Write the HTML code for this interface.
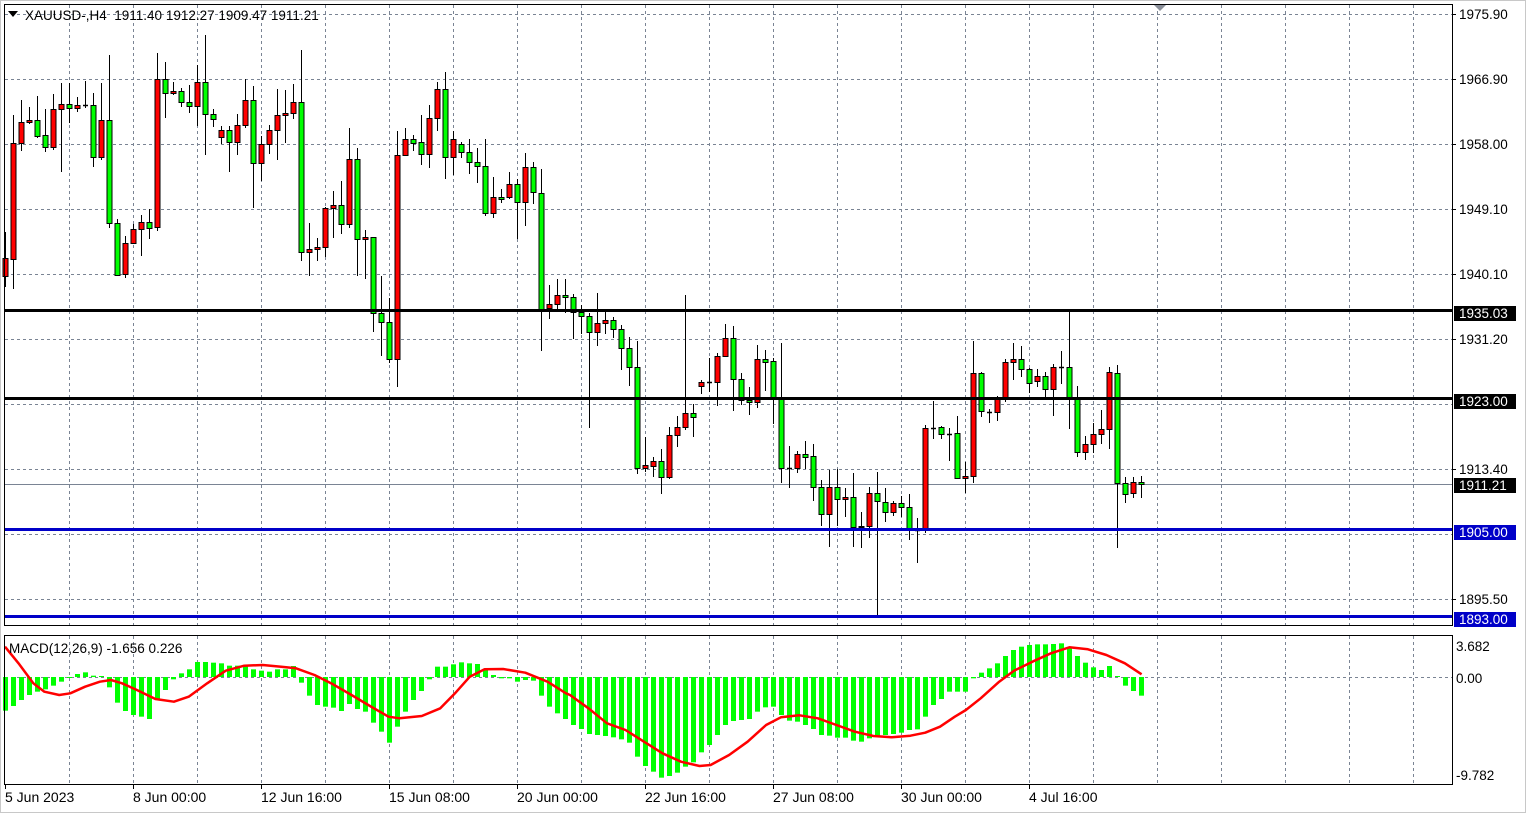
<!DOCTYPE html>
<html><head><meta charset="utf-8"><style>
html,body{margin:0;padding:0;background:#fff;}
svg{display:block;font-family:"Liberation Sans","DejaVu Sans",sans-serif;}
text{white-space:pre;}
</style></head><body>
<svg id="s" width="1526" height="813" xmlns="http://www.w3.org/2000/svg"></svg>
<script>
const S=document.getElementById('s');let h='';
h+='<rect x="0" y="0" width="1526" height="813" fill="#fff"/>';
h+='<rect x="0.5" y="0.5" width="1525" height="812" fill="none" stroke="#c8c8c8"/>';
const gs='stroke="#7a8494" stroke-width="1" stroke-dasharray="3,3"';
for(let k=1;k<=22;k++){const x=5+64*k+0.5;h+=`<line x1="${x}" y1="5" x2="${x}" y2="625" ${gs}/>`;h+=`<line x1="${x}" y1="636" x2="${x}" y2="784" ${gs}/>`;}
for(let k=0;k<10;k++){const y=14+65*k+0.5;h+=`<line x1="5" y1="${y}" x2="1452" y2="${y}" ${gs}/>`;}
h+=`<line x1="5" y1="677.5" x2="1452" y2="677.5" ${gs}/>`;
h+='<line x1="5" y1="484.5" x2="1452" y2="484.5" stroke="#7a8494" stroke-width="1"/>';
const C=[[258,276,232,287,'r'],[143,259,115,289,'r'],[122,143,100,151,'r'],[120,122,107,124,'r'],[120,136,96,138,'g'],[135,147,109,152,'g'],[109,147,94,150,'r'],[104,109,83,172,'r'],[104,108,83,123,'g'],[105,108,97,112,'r'],[105,105,81,108,'d'],[105,157,93,167,'g'],[120,157,83,160,'r'],[120,223,55,228,'g'],[223,275,219,275,'g'],[243,274,236,278,'r'],[229,243,224,244,'r'],[222,229,215,256,'r'],[222,228,209,239,'g'],[79,227,53,231,'r'],[79,93,62,118,'g'],[91,93,82,95,'r'],[91,102,88,107,'g'],[102,106,85,113,'g'],[82,106,65,126,'r'],[82,114,35,155,'g'],[114,119,109,127,'g'],[130,137,126,144,'r'],[130,142,126,172,'g'],[125,142,114,155,'r'],[100,125,79,128,'r'],[100,163,86,208,'g'],[144,163,136,181,'r'],[130,144,125,154,'r'],[115,130,89,160,'r'],[113,115,90,143,'r'],[102,113,84,119,'r'],[102,252,50,261,'g'],[249,252,223,276,'r'],[247,249,238,261,'r'],[208,247,207,257,'r'],[205,208,191,238,'r'],[205,224,181,234,'g'],[159,224,128,228,'r'],[159,239,148,276,'g'],[237,239,230,279,'r'],[237,313,237,332,'g'],[313,322,276,356,'g'],[322,359,298,363,'g'],[155,359,131,387,'r'],[139,155,128,155,'r'],[139,143,135,151,'g'],[142,154,115,165,'g'],[118,154,105,168,'r'],[89,118,82,131,'r'],[89,157,72,179,'g'],[139,157,131,175,'r'],[144,152,142,158,'g'],[152,162,139,174,'g'],[162,166,148,183,'g'],[166,213,139,216,'g'],[197,213,177,218,'r'],[197,199,189,203,'g'],[184,197,172,199,'r'],[184,202,179,239,'g'],[167,202,153,226,'r'],[167,192,162,204,'g'],[193,310,169,351,'g'],[304,308,285,319,'r'],[295,304,279,310,'r'],[295,297,279,313,'g'],[297,312,294,339,'g'],[312,316,305,334,'g'],[316,332,313,428,'g'],[323,332,293,346,'r'],[320,323,312,334,'r'],[320,329,317,338,'g'],[329,348,325,370,'g'],[348,367,337,386,'g'],[367,468,341,474,'g'],[465,468,437,472,'r'],[461,466,457,477,'r'],[461,477,449,494,'g'],[435,477,427,479,'r'],[427,435,416,447,'r'],[413,427,295,430,'r'],[413,417,404,437,'g'],[382,386,380,394,'r'],[382,382,358,392,'d'],[356,382,353,406,'r'],[338,356,324,356,'r'],[338,379,326,411,'g'],[379,400,373,405,'g'],[400,402,387,415,'g'],[359,402,345,408,'r'],[359,362,350,391,'g'],[361,397,358,424,'g'],[398,468,343,483,'g'],[468,468,446,488,'d'],[454,468,451,473,'r'],[454,457,441,469,'g'],[456,487,444,501,'g'],[487,514,480,526,'g'],[487,514,470,547,'r'],[487,499,469,526,'g'],[497,499,488,517,'r'],[497,527,473,547,'g'],[526,527,512,548,'r'],[493,526,487,538,'r'],[493,501,472,618,'g'],[502,512,488,522,'g'],[503,512,501,516,'r'],[503,507,496,517,'g'],[507,530,494,540,'g'],[530,530,518,563,'d'],[428,530,425,533,'r'],[428,428,401,439,'d'],[427,434,426,439,'g'],[434,434,428,461,'d'],[433,478,416,478,'g'],[476,478,462,493,'r'],[373,476,341,483,'r'],[373,411,372,417,'g'],[412,412,409,423,'d'],[399,412,396,421,'r'],[362,399,359,402,'r'],[359,362,343,380,'r'],[359,369,346,377,'g'],[369,383,368,393,'g'],[376,381,369,387,'r'],[376,389,372,397,'g'],[367,389,364,416,'r'],[367,367,351,384,'d'],[367,397,312,429,'g'],[397,452,386,457,'g'],[444,452,436,460,'r'],[434,444,423,453,'r'],[429,434,410,444,'r'],[372,429,367,449,'r'],[373,483,365,548,'g'],[483,494,477,503,'g'],[482,493,477,498,'r'],[482,484,476,498,'g']];
h+='<g>';
C.forEach((c,i)=>{const x=5+8*i;const xc=x+0.5;
 h+=`<line x1="${xc}" y1="${c[2]}" x2="${xc}" y2="${c[3]}" stroke="#000" stroke-width="1"/>`;
 if(c[4]==='d'||c[1]-c[0]<1){h+=`<line x1="${x-2}" y1="${c[0]+0.5}" x2="${x+3}" y2="${c[0]+0.5}" stroke="#000" stroke-width="1.5"/>`;}
 else{const f=c[4]==='r'?'#ff0000':'#00ff00';h+=`<rect x="${x-2}" y="${c[0]+0.5}" width="5" height="${c[1]-c[0]}" fill="${f}" stroke="#000" stroke-width="1"/>`;}
});
h+='</g>';
h+='<rect x="5" y="309" width="1447" height="3" fill="#000"/>';
h+='<rect x="5" y="397" width="1447" height="3" fill="#000"/>';
h+='<rect x="5" y="528" width="1447" height="3" fill="#0000c8"/>';
h+='<rect x="5" y="615" width="1447" height="3" fill="#0000c8"/>';
const H1=[242,228,210,195,185,178,167,155,144,132,127,137,138,172,218,243,255,260,267,210,180,148,130,118,96,96,98,100,107,107,108,118,122,125,118,118,108,158,197,225,230,233,243,222,237,245,278,305,338,290,245,210,183,148,110,110,103,97,100,102,120,135,145,145,155,150,152,197,230,250,267];
const H2=[285,297,312,315,318,322,328,338,380,408,425,443,438,428,410,397,367,345,315,285,273,270,267,245,232,230,255,272,275,285,297,315,317,323,323,332,335,325,320,315,312,308,300,298,260,225,207,185,185,185,145,128,115,100,78,60,50,45,43,43,42,40,52,78,98,112,120,108,138,167,183,197];
const H=H1.concat(H2);
const z=677;
H.forEach((v,i)=>{if(i>142)return;const x=5+8*i-2;const y=630+v/3;let t=Math.min(y,z),b=Math.max(y,z);if(b-t<1)b=t+1;h+=`<rect x="${x}" y="${t}" width="5" height="${b-t}" fill="#00ff00"/>`;});
const P1=[[15,50],[50,100],[90,160],[120,185],[160,195],[190,190],[230,170],[270,155],[300,150],[330,160],[370,180],[420,207],[470,215],[510,200],[560,160],[610,122],[660,107],[710,105],[760,110],[800,115],[850,135],[900,163],[950,195],[1000,228],[1050,260],[1080,265],[1140,258],[1190,235],[1230,190],[1270,140],[1310,118],[1360,117],[1420,128],[1480,155],[1530,190]];
const P2=[[0,195],[50,235],[100,280],[150,300],[200,335],[250,370],[300,395],[350,408],[380,405],[430,375],[480,335],[530,285],[570,262],[620,256],[670,265],[720,285],[770,305],[820,318],[870,322],[920,317],[960,308],[1000,290],[1040,260],[1070,240],[1110,205],[1160,155],[1200,122],[1250,95],[1300,70],[1350,52],[1400,58],[1450,75],[1500,100],[1545,133]];
let pts=P1.map(p=>[(p[0]/2.703).toFixed(1),(630+p[1]/3).toFixed(1)]).concat(P2.map(p=>[(570+p[0]/2.703).toFixed(1),(630+p[1]/3).toFixed(1)]));
pts[0][0]=5;
h+=`<polyline points="${pts.map(p=>p.join(',')).join(' ')}" fill="none" stroke="#ff0000" stroke-width="2.5" stroke-linejoin="round"/>`;
h+='<rect x="4.5" y="4.5" width="1448" height="621" fill="none" stroke="#000"/>';
h+='<rect x="4.5" y="635.5" width="1448" height="149" fill="none" stroke="#000"/>';
h+='<polygon points="1154,5 1166,5 1160,11" fill="#8a8f99"/>';
h+='<polygon points="8,11 18,11 13,17" fill="#000"/>';
h+='<text x="25" y="20" font-size="13.5" fill="#000" xml:space="preserve">XAUUSD-,H4  1911.40 1912.27 1909.47 1911.21</text>';
h+='<text x="9" y="653" font-size="13.5" fill="#000">MACD(12,26,9) -1.656 0.226</text>';
const PL=[[14,'1975.90'],[79,'1966.90'],[144,'1958.00'],[209,'1949.10'],[274,'1940.10'],[339,'1931.20'],[469,'1913.40'],[599,'1895.50']];
PL.forEach(p=>{h+=`<line x1="1452" y1="${p[0]+0.5}" x2="1456" y2="${p[0]+0.5}" stroke="#000"/><text x="1459" y="${p[0]+5}" font-size="13.5" fill="#000">${p[1]}</text>`;});
const BL=[[313,'1935.03','#000'],[401,'1923.00','#000'],[485,'1911.21','#000'],[532,'1905.00','#0000c8'],[619,'1893.00','#0000c8']];
BL.forEach(p=>{h+=`<rect x="1454" y="${p[0]-7}" width="62" height="15" fill="${p[2]}"/><text x="1459" y="${p[0]+5}" font-size="13.5" fill="#fff">${p[1]}</text>`;});
[[646,'3.682'],[678,'0.00'],[775,'-9.782']].forEach(p=>{h+=`<text x="1456" y="${p[0]+5}" font-size="13.5" fill="#000">${p[1]}</text>`;});
const TL=[[5,'5 Jun 2023'],[133,'8 Jun 00:00'],[261,'12 Jun 16:00'],[389,'15 Jun 08:00'],[517,'20 Jun 00:00'],[645,'22 Jun 16:00'],[773,'27 Jun 08:00'],[901,'30 Jun 00:00'],[1029,'4 Jul 16:00']];
TL.forEach(t=>{h+=`<line x1="${t[0]+0.5}" y1="784" x2="${t[0]+0.5}" y2="789" stroke="#000"/><text x="${t[0]}" y="802" font-size="14" fill="#000">${t[1]}</text>`;});
S.innerHTML=h;
</script>
</body></html>
